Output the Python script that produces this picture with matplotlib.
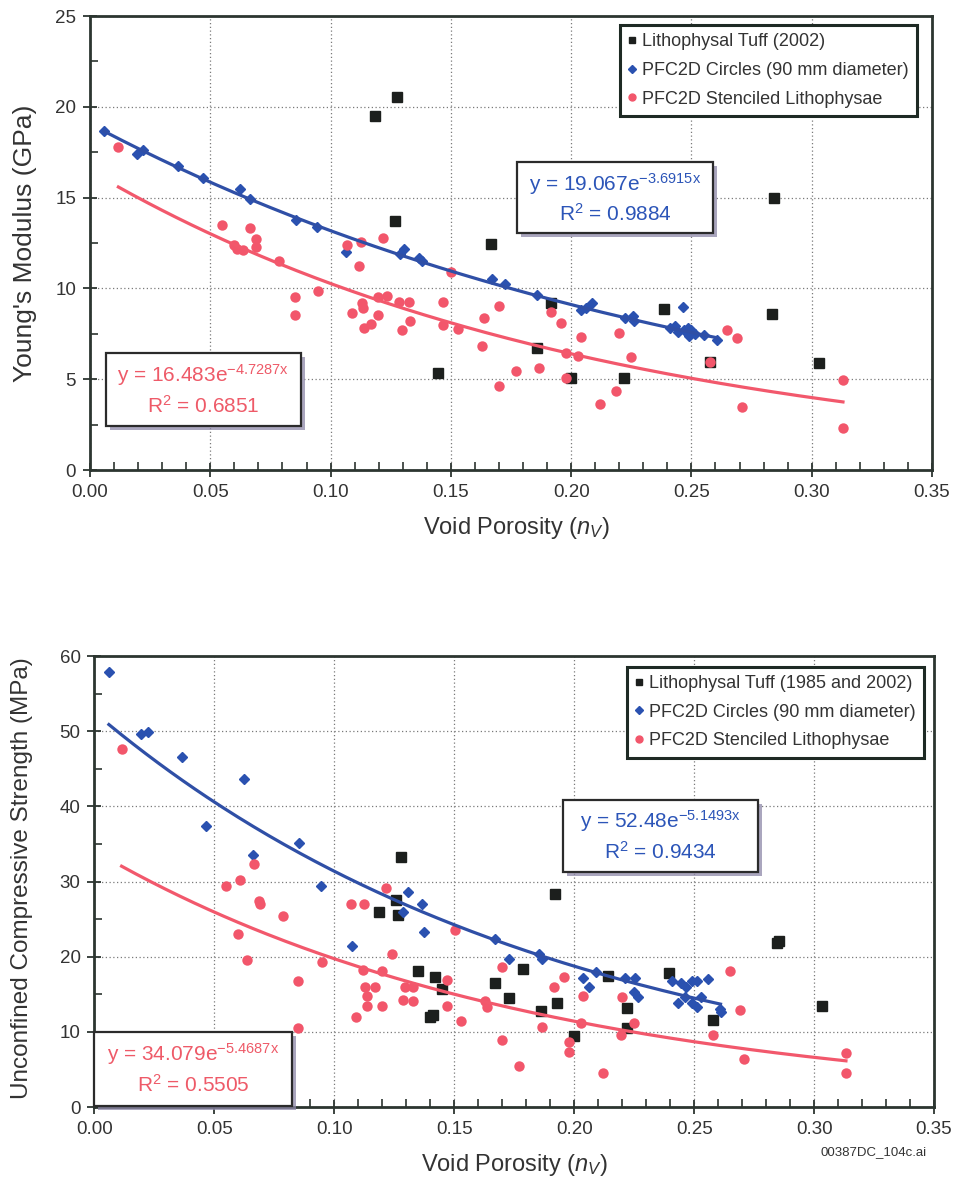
import numpy as np
import matplotlib
matplotlib.use("Agg")
import matplotlib.pyplot as plt
from matplotlib.lines import Line2D
from matplotlib.patches import Rectangle
from matplotlib.transforms import offset_copy

plt.rcParams['font.family'] = ['Liberation Sans', 'DejaVu Sans']
plt.rcParams['mathtext.fontset'] = 'custom'
plt.rcParams['mathtext.rm'] = 'Liberation Sans'
plt.rcParams['mathtext.it'] = 'Liberation Sans:italic'
plt.rcParams['mathtext.bf'] = 'Liberation Sans:bold'

# ---- Young's modulus panel ----
top_tuff_x = [0.1183, 0.1275, 0.1267, 0.1448, 0.1667, 0.1858, 0.1917, 0.1999, 0.2218,
              0.2388, 0.2578, 0.2837, 0.2842, 0.303]
top_tuff_y = [19.51, 20.52, 13.73, 5.36, 12.43, 6.7, 9.21, 5.05, 5.08,
              8.85, 5.96, 8.59, 15.0, 5.91]

top_circ_x = [0.0058, 0.0197, 0.0222, 0.0364, 0.0471, 0.0625, 0.0665, 0.0856, 0.0945, 0.1064,
              0.1289, 0.1305, 0.1369, 0.1380, 0.167, 0.1726, 0.1858, 0.2043, 0.2063, 0.2087,
              0.2223, 0.2257, 0.2263, 0.2413, 0.243, 0.2443, 0.2467, 0.247, 0.2485, 0.249,
              0.250, 0.2515, 0.2554, 0.2605]
top_circ_y = [18.68, 17.4, 17.6, 16.74, 16.1, 15.5, 14.9, 13.77, 13.36, 12.02,
              11.9, 12.15, 11.7, 11.5, 10.5, 10.24, 9.64, 8.81, 8.9, 9.21,
              8.35, 8.48, 8.2, 7.8, 7.95, 7.6, 8.96, 7.7, 7.8, 7.4,
              7.7, 7.5, 7.43, 7.16]

top_sten_x = [0.0118, 0.0549, 0.0599, 0.061, 0.0637, 0.0665, 0.069, 0.069, 0.0787, 0.0852,
              0.0852, 0.0949, 0.1067, 0.1088, 0.112, 0.1127, 0.1129, 0.1133, 0.1139, 0.1167,
              0.1196, 0.1199, 0.1217, 0.1236, 0.1285, 0.1298, 0.1327, 0.133, 0.1469, 0.1469,
              0.150, 0.1528, 0.1628, 0.1638, 0.170, 0.170, 0.177, 0.1866, 0.1917, 0.1958,
              0.1977, 0.1977, 0.2029, 0.2039, 0.212, 0.2188, 0.2199, 0.225, 0.2578, 0.2647,
              0.2691, 0.2709, 0.313, 0.313]
top_sten_y = [17.8, 13.49, 12.39, 12.15, 12.11, 13.31, 12.7, 12.3, 11.53, 9.54,
              8.54, 9.86, 12.39, 8.66, 11.23, 12.57, 9.18, 8.9, 7.8, 8.04,
              9.54, 8.54, 12.76, 9.58, 9.27, 7.71, 9.27, 8.22, 9.23, 7.98,
              10.9, 7.75, 6.85, 8.35, 9.03, 4.64, 5.45, 5.6, 8.72, 8.08,
              6.46, 5.08, 6.28, 7.34, 3.63, 4.37, 7.53, 6.2, 5.96, 7.71,
              7.29, 3.49, 4.96, 2.33]

# exponential trendlines: (coefficient, exponent, R^2) as printed on the chart
top_fit_circ = ('19.067', '-3.6915', '0.9884')
top_fit_sten = ('16.483', '-4.7287', '0.6851')

# ---- Unconfined compressive strength panel ----
bot_tuff_x = [0.1187, 0.1257, 0.1267, 0.1277, 0.135, 0.1399, 0.141, 0.142, 0.1447, 0.167,
              0.1729, 0.1788, 0.186, 0.1919, 0.1927, 0.2001, 0.2139, 0.2219, 0.222, 0.2394,
              0.258, 0.2846, 0.2853, 0.3032]
bot_tuff_y = [25.9, 27.6, 25.5, 33.2, 18.1, 12.0, 12.3, 17.25, 15.7, 16.45,
              14.46, 18.36, 12.77, 28.4, 13.8, 9.45, 17.4, 10.47, 13.2, 17.8,
              11.57, 21.8, 22.1, 13.5]

bot_circ_x = [0.006, 0.0194, 0.0224, 0.0363, 0.0465, 0.0623, 0.0662, 0.0854, 0.0943, 0.1072,
              0.1285, 0.1308, 0.1367, 0.1375, 0.167, 0.1729, 0.1852, 0.1867, 0.2038, 0.2063,
              0.209, 0.2211, 0.2248, 0.2253, 0.2265, 0.2409, 0.2431, 0.2446, 0.2461, 0.2468,
              0.2493, 0.2493, 0.251, 0.2513, 0.2527, 0.2557, 0.2606, 0.261]
bot_circ_y = [57.9, 49.6, 49.9, 46.5, 37.4, 43.6, 33.5, 35.1, 29.4, 21.4,
              26.0, 28.6, 26.97, 23.3, 22.4, 19.65, 20.4, 19.65, 17.2, 15.9,
              17.9, 17.2, 15.26, 17.2, 14.6, 16.7, 13.8, 16.45, 14.7, 16.0,
              16.7, 13.8, 16.7, 13.3, 14.7, 17.0, 13.1, 12.7]

bot_sten_x = [0.0113, 0.0547, 0.06, 0.0607, 0.0637, 0.0666, 0.0686, 0.069, 0.0787, 0.085,
              0.085, 0.095, 0.1068, 0.1089, 0.1118, 0.1125, 0.1128, 0.1135, 0.1137, 0.117,
              0.1197, 0.1197, 0.1215, 0.1239, 0.1285, 0.1294, 0.1327, 0.1329, 0.1468, 0.1468,
              0.1503, 0.1528, 0.1628, 0.1638, 0.1698, 0.1698, 0.177, 0.1867, 0.1914, 0.1959,
              0.1978, 0.1978, 0.203, 0.2038, 0.2119, 0.2193, 0.2201, 0.2248, 0.258, 0.2649,
              0.2691, 0.2708, 0.3133, 0.3133]
bot_sten_y = [47.6, 29.4, 22.97, 30.2, 19.56, 32.3, 27.4, 27.0, 25.45, 16.7,
              10.55, 19.25, 26.97, 12.0, 18.2, 26.97, 16.0, 14.8, 13.5, 16.0,
              18.1, 13.5, 29.1, 20.35, 14.2, 15.9, 16.0, 14.1, 16.9, 13.5,
              23.6, 11.44, 14.1, 13.35, 18.67, 8.9, 5.5, 10.7, 15.9, 17.3,
              8.7, 7.3, 11.2, 14.8, 4.57, 9.6, 14.7, 11.2, 9.6, 18.1,
              12.9, 6.39, 7.14, 4.57]

bot_fit_circ = ('52.48', '-5.1493', '0.9434')
bot_fit_sten = ('34.079', '-5.4687', '0.5505')

x_ticks = [0.00, 0.05, 0.10, 0.15, 0.20, 0.25, 0.30, 0.35]

TXT = '#333333'
BLACK = '#1c1f1d'
BLUE = '#2a51b0'
PINK = '#f2566b'
LINE_BLUE = '#2f4fa6'
LINE_PINK = '#f2586c'


def draw_fit(ax, xs, fit, color):
    a, b = float(fit[0]), float(fit[1])
    xf = np.linspace(min(xs), max(xs), 200)
    ax.plot(xf, a * np.exp(b * xf), color=color, lw=2.3, zorder=5)


def eq_box(ax, fig, x0, x1, y0, y1, fit, color):
    a, b, r2 = fit
    shadow = Rectangle((x0, y0), x1 - x0, y1 - y0,
                       transform=offset_copy(ax.transData, fig=fig, x=4, y=-4, units='dots'),
                       facecolor='#8e88a8', edgecolor='none', alpha=0.75, zorder=6, clip_on=False)
    ax.add_patch(shadow)
    box = Rectangle((x0, y0), x1 - x0, y1 - y0, facecolor='white', edgecolor='#2b2b2b',
                    lw=1.6, zorder=7, clip_on=False)
    ax.add_patch(box)
    xc = (x0 + x1) / 2
    h = y1 - y0
    ax.text(xc, y0 + 0.70 * h, "y = %se$^{\\mathregular{%sx}}$" % (a, b),
            ha='center', va='center', color=color, fontsize=15, zorder=8)
    ax.text(xc, y0 + 0.28 * h, "R$^{\\mathregular{2}}$ = %s" % r2,
            ha='center', va='center', color=color, fontsize=15, zorder=8)


def style_axes(ax, ymax, ystep):
    ax.set_xlim(0, 0.35)
    ax.set_ylim(0, ymax)
    ax.set_xticks(x_ticks)
    ax.set_xticklabels(["%.2f" % v for v in x_ticks])
    ax.set_xticks(np.arange(0, 0.351, 0.01), minor=True)
    ax.set_yticks(np.arange(0, ymax + 0.1, ystep))
    ax.set_yticks(np.arange(0, ymax + 0.1, ystep / 2), minor=True)
    ax.grid(True, which='major', color='#7a7a7a', lw=0.9, linestyle=(0, (1, 2)))
    ax.set_axisbelow(True)
    for s in ax.spines.values():
        s.set_color('#2c3530')
        s.set_linewidth(2.0)
    ax.tick_params(which='major', direction='inout', length=10, width=1.3,
                   colors='#2c3530', labelcolor=TXT, labelsize=13.5, pad=5)
    ax.tick_params(which='minor', direction='in', length=6, width=1.2, colors='#2c3530')


def add_legend(ax, tuff_label, anchor):
    handles = [
        Line2D([], [], ls='none', marker='s', ms=5, color=BLACK),
        Line2D([], [], ls='none', marker='D', ms=4, color=BLUE),
        Line2D([], [], ls='none', marker='o', ms=5, color=PINK),
    ]
    labels = [tuff_label, 'PFC2D Circles (90 mm diameter)', 'PFC2D Stenciled Lithophysae']
    leg = ax.legend(handles, labels, loc='upper right', bbox_to_anchor=anchor,
                    fontsize=13, frameon=True, fancybox=False, framealpha=1,
                    handlelength=0.5, handletextpad=0.3, labelspacing=0.65,
                    borderpad=0.45, borderaxespad=0)
    leg.get_frame().set_edgecolor('#1e2a24')
    leg.get_frame().set_linewidth(2.2)
    for t in leg.get_texts():
        t.set_color(TXT)
    leg.set_zorder(10)


fig = plt.figure(figsize=(9.58, 11.84), dpi=100)
ax1 = fig.add_axes([0.09395, 0.6030, 0.8789, 0.3834])
ax2 = fig.add_axes([0.09864, 0.06503, 0.8763, 0.3809])

# top panel
style_axes(ax1, 25, 5)
ax1.plot(top_tuff_x, top_tuff_y, ls='none', marker='s', ms=7, color=BLACK, zorder=3)
ax1.plot(top_circ_x, top_circ_y, ls='none', marker='D', ms=5.5, color=BLUE, zorder=3)
ax1.plot(top_sten_x, top_sten_y, ls='none', marker='o', ms=7.5, color=PINK, mec='none', zorder=4)
draw_fit(ax1, top_circ_x, top_fit_circ, LINE_BLUE)
draw_fit(ax1, top_sten_x, top_fit_sten, LINE_PINK)
eq_box(ax1, fig, 0.1777, 0.2588, 13.03, 16.94, top_fit_circ, '#2c55b8')
eq_box(ax1, fig, 0.0067, 0.0876, 2.42, 6.46, top_fit_sten, '#ee5a68')
add_legend(ax1, 'Lithophysal Tuff (2002)', (0.982, 0.980))
ax1.set_ylabel("Young's Modulus (GPa)", fontsize=19, color=TXT, va='center')
ax1.yaxis.set_label_coords(-0.077, 0.5)
ax1.set_xlabel("Void Porosity ($n_V$)", fontsize=17, color=TXT, va='center')
ax1.xaxis.set_label_coords(0.506, -0.128)

# bottom panel
style_axes(ax2, 60, 10)
ax2.plot(bot_tuff_x, bot_tuff_y, ls='none', marker='s', ms=7, color=BLACK, zorder=3)
ax2.plot(bot_circ_x, bot_circ_y, ls='none', marker='D', ms=5.5, color=BLUE, zorder=3)
ax2.plot(bot_sten_x, bot_sten_y, ls='none', marker='o', ms=7.5, color=PINK, mec='none', zorder=4)
draw_fit(ax2, bot_circ_x, bot_fit_circ, LINE_BLUE)
draw_fit(ax2, bot_sten_x, bot_fit_sten, LINE_PINK)
eq_box(ax2, fig, 0.1953, 0.2765, 31.3, 40.9, bot_fit_circ, '#2c55b8')
eq_box(ax2, fig, 0.0, 0.0822, 0.2, 10.0, bot_fit_sten, '#ee5a68')
add_legend(ax2, 'Lithophysal Tuff (1985 and 2002)', (0.988, 0.976))
ax2.set_ylabel("Unconfined Compressive Strength (MPa)", fontsize=17.5, color=TXT, va='center')
ax2.yaxis.set_label_coords(-0.086, 0.508)
ax2.set_xlabel("Void Porosity ($n_V$)", fontsize=17, color=TXT, va='center')
ax2.xaxis.set_label_coords(0.50, -0.129)

fig.text(874 / 958, 1 - 1152 / 1184, "00387DC_104c.ai", fontsize=9.5, color=TXT,
         ha='center', va='center')

fig.savefig("out.png", dpi=100)
